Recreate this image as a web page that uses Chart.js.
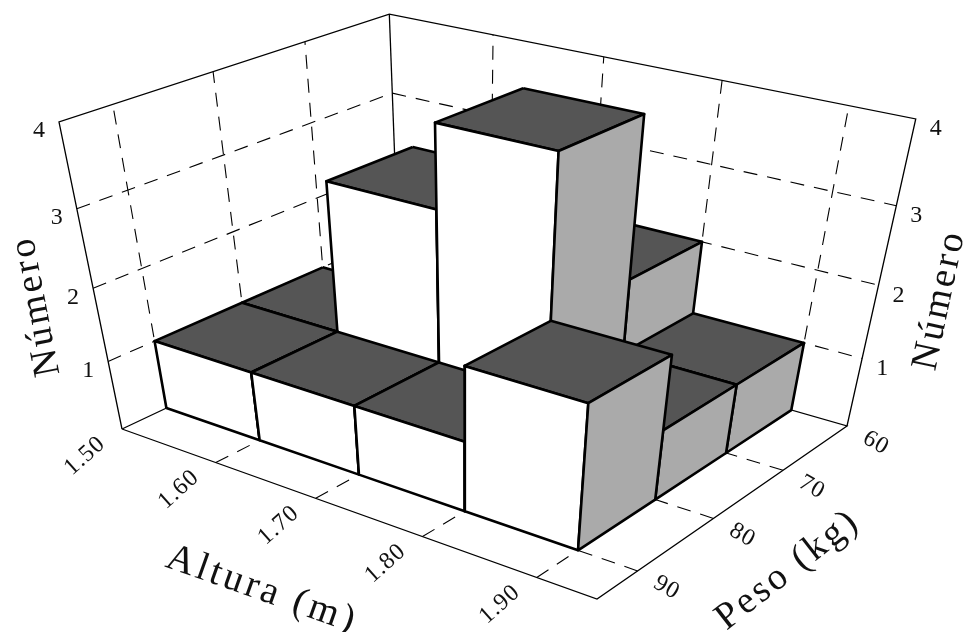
<!DOCTYPE html>
<html>
<head>
<meta charset="utf-8">
<style>
  html, body { margin: 0; padding: 0; background: #fff; }
  canvas { display: block; }
</style>
<script src="https://cdn.jsdelivr.net/npm/chart.js@4/dist/chart.umd.min.js"></script>
</head>
<body>
<canvas id="hist3d" width="963" height="632"></canvas>
<script>
// bin edges of the histogram
const alturaEdges = [1.5, 1.6, 1.7, 1.8, 1.9];
const pesoEdges = [60, 70, 80, 90];
// counts per bin
const peso60 = [0, 0, 2, 1];
const peso70 = [1, 3, 4, 1];
const peso80 = [1, 1, 1, 2];

const alturaTicks = ["1.50", "1.60", "1.70", "1.80", "1.90"];
const pesoTicks = ["60", "70", "80", "90"];
const numeroTicks = ["1", "2", "3", "4"];

const alturaRange = [1.5, 1.95];
const pesoRange = [95, 60];
const numeroMax = 4;

// camera: floor corners on screen + where the verticals meet
const floorCorners = [[122, 429], [597, 599], [847, 426], [400, 298]];
const verticalVanish = [468.4, 2117];
const wallScale = -0.1539;

const [[x0, y0], [x1, y1], [x2, y2], [x3, y3]] = floorCorners;
const dx1 = x1 - x2, dx2 = x3 - x2, sx = x0 - x1 + x2 - x3;
const dy1 = y1 - y2, dy2 = y3 - y2, sy = y0 - y1 + y2 - y3;
const den = dx1 * dy2 - dx2 * dy1;
const g = (sx * dy2 - dx2 * sy) / den;
const h = (dx1 * sy - sx * dy1) / den;
const a = x1 - x0 + g * x1, b = x3 - x0 + h * x3;
const d = y1 - y0 + g * y1, e = y3 - y0 + h * y3;

function project(altura, peso, n) {
  const u = (altura - alturaRange[0]) / (alturaRange[1] - alturaRange[0]);
  const v = (peso - pesoRange[0]) / (pesoRange[1] - pesoRange[0]);
  const w = (n / numeroMax) * wallScale;
  const q = g * u + h * v + 1 + w;
  return {
    x: (a * u + b * v + x0 + w * verticalVanish[0]) / q,
    y: (d * u + e * v + y0 + w * verticalVanish[1]) / q,
  };
}

const datasets = [];
function addLine(points, dashed) {
  datasets.push({
    data: points,
    showLine: true,
    fill: false,
    borderColor: "#000",
    borderWidth: dashed ? 1.1 : 1.3,
    borderDash: dashed ? [14, 10] : [],
    pointRadius: 0,
  });
}
function addFace(points, color) {
  datasets.push({
    data: points.concat([points[0]]),
    showLine: true,
    fill: "shape",
    backgroundColor: color,
    borderColor: "#000",
    borderWidth: 2.6,
    borderJoinStyle: "round",
    pointRadius: 0,
  });
}

const [aMin, aMax] = alturaRange;
const [pFront, pBack] = pesoRange;

// floor and wall grid
alturaTicks.slice(1).forEach((t) => {
  const v = parseFloat(t);
  addLine([project(v, pFront, 0), project(v, pBack, 0)], true);
  addLine([project(v, pBack, 0), project(v, pBack, numeroMax)], true);
});
pesoTicks.slice(1).forEach((t) => {
  const v = parseFloat(t);
  addLine([project(aMax, v, 0), project(aMin, v, 0)], true);
  addLine([project(aMin, v, 0), project(aMin, v, numeroMax)], true);
});
numeroTicks.slice(0, -1).forEach((t) => {
  const v = parseFloat(t);
  addLine([project(aMin, pFront, v), project(aMin, pBack, v)], true);
  addLine([project(aMin, pBack, v), project(aMax, pBack, v)], true);
});

// frame
addLine([project(aMin, pFront, 0), project(aMax, pFront, 0), project(aMax, pBack, 0),
  project(aMin, pBack, 0), project(aMin, pFront, 0)], false);
addLine([project(aMin, pFront, 0), project(aMin, pFront, numeroMax), project(aMin, pBack, numeroMax),
  project(aMax, pBack, numeroMax), project(aMax, pBack, 0)], false);
addLine([project(aMin, pBack, 0), project(aMin, pBack, numeroMax)], false);

// bars, back row first
[peso60, peso70, peso80].forEach((row, j) => {
  const pB = pesoEdges[j];
  const pF = j + 1 < pesoEdges.length ? pesoEdges[j + 1] : 90;
  row.forEach((count, i) => {
    if (!count) return;
    const aL = alturaEdges[i];
    const aR = alturaEdges[i + 1];
    addFace([project(aL, pB, count), project(aR, pB, count), project(aR, pF, count), project(aL, pF, count)], "#555555");
    addFace([project(aL, pF, 0), project(aR, pF, 0), project(aR, pF, count), project(aL, pF, count)], "#ffffff");
    addFace([project(aR, pF, 0), project(aR, pB, 0), project(aR, pB, count), project(aR, pF, count)], "#aaaaaa");
  });
});

// later faces have to land on top
datasets.forEach((ds, idx) => { ds.order = -idx; });

const serif = '"Liberation Serif", serif';
const textPlugin = {
  id: "labels3d",
  afterDraw(chart) {
    const c = chart.ctx;
    const sX = chart.scales.x, sY = chart.scales.y;
    const put = (txt, px, py, deg, size, spacing) => {
      c.save();
      c.translate(px, py);
      c.rotate((deg * Math.PI) / 180);
      c.font = size + "px " + serif;
      c.letterSpacing = spacing + "px";
      c.fillStyle = "#111";
      c.textAlign = "center";
      c.textBaseline = "middle";
      c.fillText(txt, 0, 0);
      c.restore();
    };
    const at = (p, ox, oy) => [sX.getPixelForValue(p.x) + ox, sY.getPixelForValue(p.y) + oy];

    alturaTicks.forEach((t) => {
      const [px, py] = at(project(parseFloat(t), pFront, 0), -37, 27);
      put(t, px, py, -42, 24, 1);
    });
    pesoTicks.forEach((t) => {
      const [px, py] = at(project(aMax, parseFloat(t), 0), 29, 17);
      put(t, px, py, 30, 24, 1);
    });
    numeroTicks.forEach((t) => {
      const n = parseFloat(t);
      let [px, py] = at(project(aMin, pFront, n), -20, 9);
      put(t, px, py, 0, 24, 0);
      [px, py] = at(project(aMax, pBack, n), 20, 10);
      put(t, px, py, 0, 24, 0);
    });
    put("Número", 36, 306, -101, 38, 3);
    put("Número", 940, 300, -78, 38, 3);
    put("Altura (m)", 262, 590, 19.5, 39, 3.5);
    put("Peso (kg)", 788, 570, -38, 38, 3);
  },
};

new Chart(document.getElementById("hist3d").getContext("2d"), {
  type: "scatter",
  data: { datasets },
  plugins: [textPlugin],
  options: {
    responsive: false,
    animation: false,
    layout: { padding: 0 },
    clip: false,
    elements: { line: { tension: 0, borderCapStyle: "butt" } },
    scales: {
      x: { type: "linear", min: 0, max: 963, display: false },
      y: { type: "linear", min: 0, max: 632, reverse: true, display: false },
    },
    plugins: {
      legend: { display: false },
      tooltip: { enabled: false },
      title: { display: false },
    },
  },
});
</script>
</body>
</html>
